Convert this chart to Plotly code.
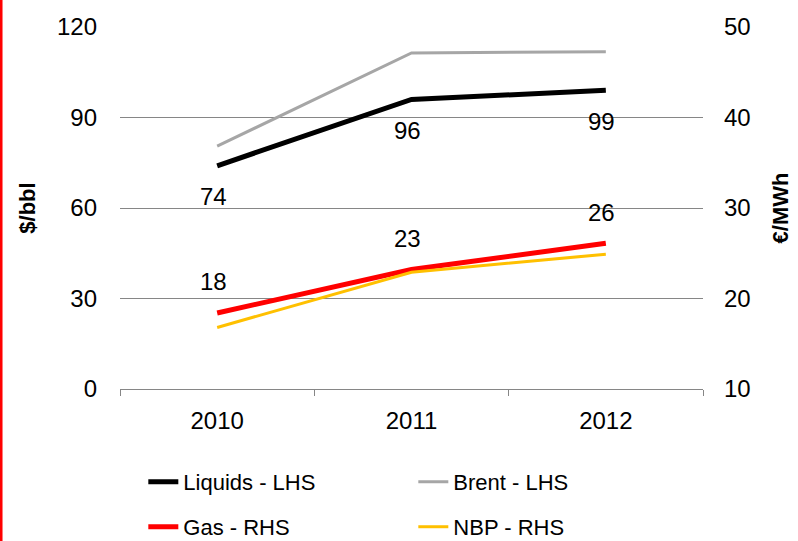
import plotly.graph_objects as go

years = ["2010", "2011", "2012"]
liquids = [74, 96, 99]
brent = [80.5, 111.4, 111.8]
gas = [18.4, 23.2, 26.1]
nbp = [16.8, 22.9, 24.9]
liquids_labels = ["74", "96", "99"]
gas_labels = ["18", "23", "26"]

FONT = "Arial, Liberation Sans, sans-serif"

fig = go.Figure()
fig.add_trace(go.Scatter(x=years, y=liquids, name="Liquids - LHS", mode="lines",
                         line=dict(color="#000000", width=5), legend="legend"))
fig.add_trace(go.Scatter(x=years, y=brent, name="Brent - LHS", mode="lines",
                         line=dict(color="#A6A6A6", width=3), legend="legend"))
fig.add_trace(go.Scatter(x=years, y=gas, name="Gas - RHS", mode="lines", yaxis="y2",
                         line=dict(color="#FF0000", width=5), legend="legend2"))
fig.add_trace(go.Scatter(x=years, y=nbp, name="NBP - RHS", mode="lines", yaxis="y2",
                         line=dict(color="#FFC000", width=3), legend="legend2"))

# data labels (x given as category index on the category axis)
for i, (y, t) in enumerate(zip(liquids, liquids_labels)):
    fig.add_annotation(x=i, y=y, xref="x", yref="y", text=t, showarrow=False,
                       xshift=-4, yshift=-31, font=dict(size=24, color="black", family=FONT))
for i, (y, t) in enumerate(zip(gas, gas_labels)):
    fig.add_annotation(x=i, y=y, xref="x", yref="y2", text=t, showarrow=False,
                       xshift=-4, yshift=31, font=dict(size=24, color="black", family=FONT))

# red edge bar at left of the page
fig.add_shape(type="rect", xref="paper", yref="paper", x0=-0.206, x1=-0.2015,
              y0=-0.5, y1=1.2, line=dict(width=0), fillcolor="#FF0000", layer="above")

fig.update_layout(
    width=798, height=541,
    margin=dict(l=120, r=95, t=27, b=152, autoexpand=False),
    paper_bgcolor="white", plot_bgcolor="white",
    font=dict(family=FONT, size=24, color="black"),
    xaxis=dict(type="category", range=[-0.5, 2.5], showgrid=False, showline=True,
               linecolor="#868686", linewidth=1, ticks="outside", tickson="boundaries",
               ticklen=6, tickcolor="#868686", tickfont=dict(size=24), ticklabelstandoff=10),
    yaxis=dict(range=[0, 120], dtick=30, showgrid=True, gridcolor="#868686", gridwidth=1,
               zeroline=False, showline=False, tickfont=dict(size=24), ticklabelstandoff=22,
               title=dict(text="<b>$/bbl</b>", font=dict(size=22), standoff=15)),
    yaxis2=dict(range=[10, 50], dtick=10, overlaying="y", side="right", showgrid=False,
                zeroline=False, showline=False, tickfont=dict(size=24), ticklabelstandoff=20,
                title=dict(text="<b>€/MWh</b>", font=dict(size=22), standoff=22)),
    legend=dict(orientation="h", x=0.04, y=0.109, yref="container", xanchor="left",
                yanchor="middle", entrywidth=225, entrywidthmode="pixels", font=dict(size=22),
                bgcolor="rgba(0,0,0,0)", traceorder="normal"),
    legend2=dict(orientation="h", x=0.04, y=0.026, yref="container", xanchor="left",
                 yanchor="middle", entrywidth=225, entrywidthmode="pixels", font=dict(size=22),
                 bgcolor="rgba(0,0,0,0)", traceorder="normal"),
)

fig.write_html("out.html")
